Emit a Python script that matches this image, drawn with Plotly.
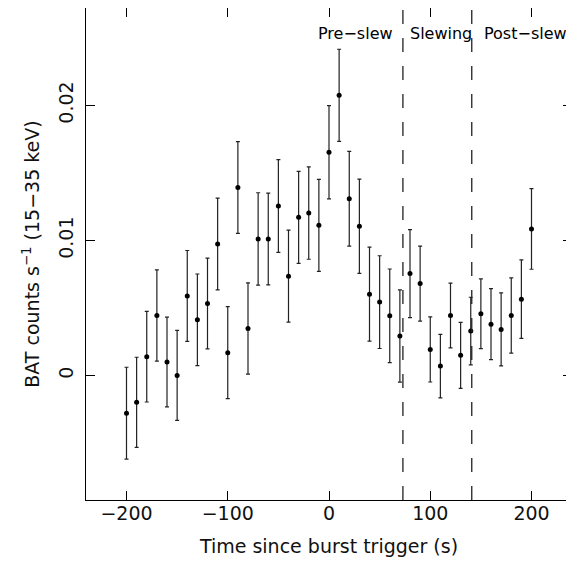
import plotly.graph_objects as go

time_s = [-200, -190, -180, -170, -160, -150, -140, -130, -120, -110,
          -100, -90, -80, -70, -60, -50, -40, -30, -20, -10,
          0, 10, 20, 30, 40, 50, 60, 70, 80, 90,
          100, 110, 120, 130, 140, 150, 160, 170, 180, 190, 200]
rate = [-0.00278, -0.00197, 0.00140, 0.00445, 0.00101, 0.00002, 0.00590, 0.00413, 0.00534, 0.00974,
        0.00170, 0.01392, 0.00349, 0.01011, 0.01011, 0.01255, 0.00736, 0.01171, 0.01203, 0.01112,
        0.01653, 0.02074, 0.01309, 0.01105, 0.00603, 0.00544, 0.00443, 0.00293, 0.00755, 0.00681,
        0.00194, 0.00071, 0.00445, 0.00150, 0.00330, 0.00458, 0.00381, 0.00342, 0.00445, 0.00566, 0.01085]
rate_err = [0.00340, 0.00333, 0.00335, 0.00337, 0.00332, 0.00333, 0.00336, 0.00339, 0.00336, 0.00339,
            0.00340, 0.00340, 0.00337, 0.00342, 0.00340, 0.00343, 0.00340, 0.00341, 0.00342, 0.00340,
            0.00345, 0.00341, 0.00350, 0.00349, 0.00348, 0.00343, 0.00346, 0.00341, 0.00325, 0.00278,
            0.00241, 0.00235, 0.00240, 0.00244, 0.00250, 0.00258, 0.00263, 0.00270, 0.00278, 0.00290, 0.00298]

slew_boundaries = [73, 141]
phase_labels = ["Pre\u2212slew", "Slewing", "Post\u2212slew"]
phase_label_x = [26, 111, 194]
phase_label_y = 0.0253

x_ticks = [-200, -100, 0, 100, 200]
x_tick_text = ["\u2212200", "\u2212100", "0", "100", "200"]
y_ticks = [0, 0.01, 0.02]
y_tick_text = ["0", "0.01", "0.02"]

fig = go.Figure()
fig.add_trace(go.Scatter(
    x=time_s, y=rate, mode="markers",
    marker=dict(color="black", size=5),
    error_y=dict(type="data", array=rate_err, visible=True, color="#222222", thickness=1.2, width=2),
    showlegend=False,
))

for xb in slew_boundaries:
    fig.add_shape(type="line", x0=xb, x1=xb, y0=0, y1=1, xref="x", yref="paper",
                  line=dict(color="#222222", width=1.3, dash="14px,14px"))

for lbl, lx in zip(phase_labels, phase_label_x):
    fig.add_annotation(x=lx, y=phase_label_y, xref="x", yref="y", text=lbl, showarrow=False,
                       font=dict(family="DejaVu Sans", size=16, color="black"))

axis_font = dict(family="DejaVu Sans", size=19, color="#111111")
fig.update_layout(
    width=566, height=558,
    margin=dict(l=78, r=2, t=0, b=66),
    plot_bgcolor="white", paper_bgcolor="white",
    font=axis_font,
    xaxis=dict(range=[-240, 240], tickvals=x_ticks, ticktext=x_tick_text,
               ticks="inside", ticklen=9, tickcolor="black", mirror="ticks",
               showline=True, linecolor="black", linewidth=1, showgrid=False, zeroline=False,
               ticklabelstandoff=-4,
               title=dict(text="Time since burst trigger (s)", font=axis_font, standoff=16),
               tickfont=axis_font),
    yaxis=dict(range=[-0.0092, 0.0272], tickvals=y_ticks, ticktext=y_tick_text,
               ticks="inside", ticklen=9, tickcolor="black", mirror="ticks",
               showline=True, linecolor="black", linewidth=1, showgrid=False, zeroline=False,
               tickangle=-90, tickfont=axis_font, ticklabelstandoff=4,
               title=dict(text="BAT counts s<sup>\u22121</sup> (15\u221235 keV)", font=axis_font, standoff=10)),
)

fig.write_html("out.html")
